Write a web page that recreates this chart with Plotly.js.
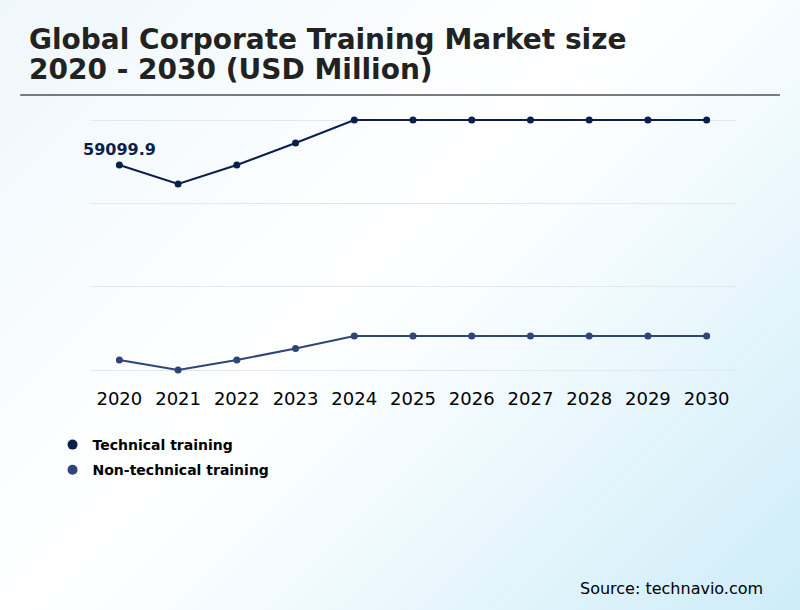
<!DOCTYPE html>
<html>
<head>
<meta charset="utf-8">
<script src="https://cdn.plot.ly/plotly-3.0.1.min.js"></script>
<style>
  html, body { margin:0; padding:0; }
  #chart {
    width:800px; height:610px;
    background: linear-gradient(135deg, #eef7fc 0%, #ffffff 45%, #f4fbfe 60%, #cdecf8 100%);
  }
</style>
</head>
<body>
<div id="chart"></div>
<script>
// values (USD Million)
const years = ["2020","2021","2022","2023","2024","2025","2026","2027","2028","2029","2030"];
const technical = [59099.9, 56820, 59100, 61740, 64500, 64500, 64500, 64500, 64500, 64500, 64500];
const nonTechnical = [35700, 34500, 35700, 37080, 38580, 38580, 38580, 38580, 38580, 38580, 38580];
const gridVals = [34500, 44500, 54500, 64500];
const firstLabel = "59099.9";
const titleLines = ["Global Corporate Training Market size", "2020 - 2030 (USD Million)"];

const navy = "#0c1f4b", blue = "#2e4677";
const ff = "DejaVu Sans, sans-serif";

const traces = [
  {x:years, y:technical, type:"scatter", mode:"lines+markers", name:"Technical training",
   line:{color:navy, width:2}, marker:{color:navy, size:7}, showlegend:false},
  {x:years, y:nonTechnical, type:"scatter", mode:"lines+markers", name:"Non-technical training",
   line:{color:blue, width:2}, marker:{color:blue, size:7}, showlegend:false},
  // legend-only entries (dot, no line)
  {x:[years[0]], y:[null], type:"scatter", mode:"markers", name:"<b>Technical training</b>",
   marker:{color:navy, size:10}, legendgroup:"a"},
  {x:[years[0]], y:[null], type:"scatter", mode:"markers", name:"<b>Non-technical training</b>",
   marker:{color:blue, size:10}, legendgroup:"b"}
];

const layout = {
  width:800, height:610,
  margin:{l:90, r:64, t:100, b:230},
  paper_bgcolor:"rgba(0,0,0,0)", plot_bgcolor:"rgba(0,0,0,0)",
  font:{family:ff, color:"#000"},
  xaxis:{type:"category", categoryorder:"array", categoryarray:years, range:[-0.5, 10.5],
         showgrid:false, zeroline:false, showline:false,
         tickfont:{family:ff, size:18, color:"#000"}, ticks:"", ticklabelstandoff:6},
  yaxis:{range:[33300, 66900], tickvals:gridVals, showticklabels:false, showgrid:true,
         gridcolor:"#e4e8ea", gridwidth:1, zeroline:false, showline:false},
  showlegend:true,
  legend:{x:-0.058, xanchor:"left", y:-0.175, yanchor:"top", orientation:"v",
          bgcolor:"rgba(0,0,0,0)", font:{family:ff, size:14, color:"#000"},
          tracegroupgap:4, itemwidth:30},
  shapes:[{type:"line", xref:"paper", yref:"paper", x0:-0.108, x1:1.068, y0:1.018, y1:1.018,
           line:{color:"#7a7a7a", width:2}}],
  annotations:[
    {x:-0.0975, y:1.216, xref:"paper", yref:"paper", xanchor:"left", yanchor:"middle",
     text:"<b>"+titleLines[0]+"</b>", showarrow:false, font:{family:ff, size:28, color:"#222"}},
    {x:-0.0975, y:1.109, xref:"paper", yref:"paper", xanchor:"left", yanchor:"middle",
     text:"<b>"+titleLines[1]+"</b>", showarrow:false, font:{family:ff, size:28, color:"#222"}},
    {x:years.indexOf("2020"), y:technical[0], xref:"x", yref:"y", text:"<b>"+firstLabel+"</b>",
     showarrow:false, yshift:16, font:{family:ff, size:16, color:navy}},
    {x:1.0449, y:-0.746, xref:"paper", yref:"paper", xanchor:"right", yanchor:"middle",
     text:"Source: technavio.com", showarrow:false, font:{family:ff, size:16, color:"#000"}}
  ]
};

Plotly.newPlot("chart", traces, layout, {displayModeBar:false, staticPlot:true});
</script>
</body>
</html>
